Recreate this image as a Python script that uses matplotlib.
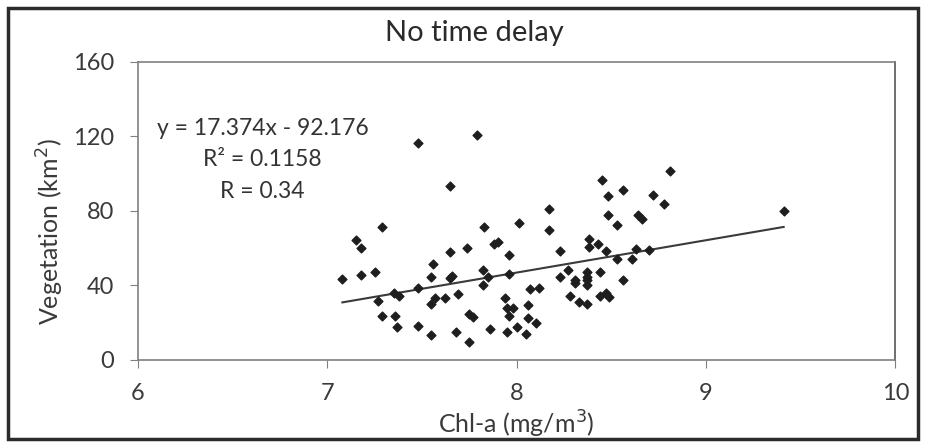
import numpy as np
import matplotlib.pyplot as plt
from matplotlib.patches import Rectangle

# Chl-a (mg/m3) and vegetation area (km2)
chl = [7.79, 7.48, 7.65, 7.29, 7.83, 8.01, 7.15, 7.18, 7.74, 7.88,
       7.90, 7.65, 7.96, 7.56, 7.08, 7.18, 7.25, 7.55, 7.65, 7.66,
       7.82, 7.85, 7.96, 7.82, 7.48, 7.35, 7.38, 7.27, 7.69, 7.57,
       7.55, 7.62, 7.94, 7.95, 7.98, 7.96, 7.29, 7.36, 7.75, 7.77,
       7.37, 7.48, 7.55, 7.68, 7.75, 7.86, 7.95, 8.00,
       8.81, 8.45, 8.48, 8.56, 8.72, 8.78, 8.17, 8.17, 8.48, 8.53,
       8.64, 8.66, 8.38, 8.38, 8.43, 8.23, 8.47, 8.63, 8.70, 8.53,
       8.61, 8.27, 8.23, 8.31, 8.31, 8.37, 8.37, 8.37, 8.37, 8.44,
       8.56, 8.28, 8.33, 8.37, 8.44, 8.47, 8.49, 8.07, 8.12, 8.06,
       8.06, 8.10, 8.05, 9.41]
veg = [120.8, 116.3, 93.4, 71.2, 71.2, 73.5, 64.4, 60.1, 60.1, 62.3,
       63.5, 57.8, 56.4, 51.5, 43.3, 45.6, 47.4, 44.4, 43.9, 45.1,
       48.3, 44.4, 46.0, 40.1, 38.8, 35.8, 34.0, 31.8, 35.4, 33.1,
       30.1, 33.1, 33.1, 27.7, 27.7, 23.3, 23.3, 23.6, 24.7, 22.9,
       17.4, 17.9, 13.4, 14.7, 9.5, 16.6, 14.7, 17.6,
       101.5, 96.6, 87.7, 91.3, 88.2, 83.8, 80.9, 69.8, 77.6, 72.3,
       77.6, 75.7, 64.8, 60.5, 62.1, 58.4, 58.2, 59.6, 58.7, 54.2,
       53.9, 48.0, 44.7, 42.6, 41.5, 47.4, 44.7, 42.6, 40.3, 47.0,
       42.6, 34.0, 30.8, 30.1, 34.0, 35.8, 33.7, 38.1, 38.5, 29.5,
       22.4, 19.7, 14.0, 80.0]

slope, intercept = 17.374, -92.176
x_ticks = [6, 7, 8, 9, 10]
y_ticks = [0, 40, 80, 120, 160]

plt.rcParams['font.family'] = ['Lato', 'DejaVu Sans']
txt = '#3a3a3a'

fig = plt.figure(figsize=(9.25, 4.47), dpi=100)
ax = fig.add_axes([0.149, 0.195, 0.819, 0.667])

ax.scatter(chl, veg, marker='D', s=20, c='#1e1e1e', zorder=3)
xl = np.array([min(chl), max(chl)])
ax.plot(xl, slope*xl + intercept, c='#3a3a3a', lw=1.5, zorder=2)

ax.set_xlim(6, 10)
ax.set_ylim(0, 160)
ax.set_xticks(x_ticks)
ax.set_yticks(y_ticks)
ax.tick_params(direction='out', length=6, color='#808080', labelsize=17,
               labelcolor=txt)
ax.tick_params(axis='x', pad=11)
ax.tick_params(axis='y', pad=11)
for s in ax.spines.values():
    s.set_color('#808080')
    s.set_linewidth(1.2)
ax.spines['right'].set_color('#555555')

ax.set_xlabel('Chl-a (mg/m$^3$)', fontsize=18, color=txt)
ax.xaxis.set_label_coords(0.5, -0.165)
ax.set_ylabel('Vegetation (km$^2$)', fontsize=18, color=txt)
ax.yaxis.set_label_coords(-0.095, 0.43)

fig.text(0.513, 0.926, 'No time delay', ha='center', va='center',
         fontsize=21, color='#2a2a2a')

fig.text(0.284, 0.737, 'y = 17.374x - 92.176\nR² = 0.1158\nR = 0.34',
         ha='center', va='top', fontsize=16.5, color='#333333',
         linespacing=1.62, multialignment='center')

# chart area border
fig.patches.append(Rectangle((0.009, 0.017), 0.983, 0.965, transform=fig.transFigure,
                             fill=False, lw=2.5, ec='#2b2b2b'))

fig.savefig('out.png', dpi=100)
